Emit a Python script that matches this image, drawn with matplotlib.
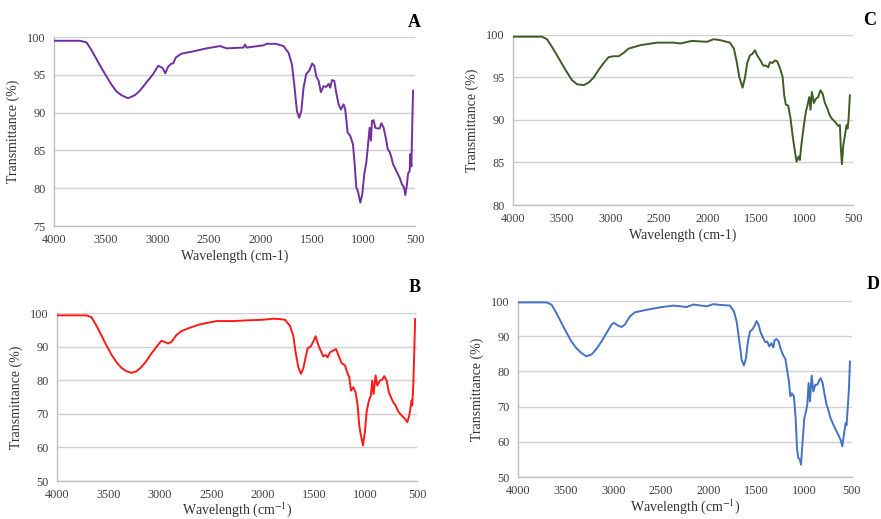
import matplotlib
matplotlib.use("Agg")
import matplotlib.pyplot as plt

# FTIR spectra, values
wn_a = [4000, 3750, 3686, 3638, 3589, 3540, 3492, 3443, 3395, 3346, 3282, 3217, 3168, 3104, 3039, 2990,
        2948, 2922, 2893, 2861, 2845, 2819, 2764, 2651, 2521, 2392, 2327, 2165, 2149, 2133, 1971, 1939,
        1850, 1776, 1727, 1695, 1672, 1646, 1624, 1604, 1582, 1556, 1524, 1498, 1478, 1459, 1436, 1414,
        1388, 1362, 1339, 1323, 1307, 1284, 1265, 1242, 1220, 1194, 1178, 1155, 1129, 1103, 1087, 1071,
        1055, 1032, 1013, 993, 974, 958, 942, 929, 919, 903, 887, 864, 845, 828, 806, 780, 767, 748, 735,
        715, 683, 651, 628, 609, 596, 580, 570, 554, 547, 537, 531, 521]
t_a = [99.5, 99.5, 99.3, 98.3, 97.1, 95.9, 94.8, 93.7, 92.8, 92.3, 91.9, 92.3, 92.9, 94.0, 95.1, 96.2,
       95.9, 95.2, 96.1, 96.5, 96.5, 97.3, 97.8, 98.1, 98.5, 98.8, 98.5, 98.6, 99.0, 98.6, 98.9, 99.1,
       99.1, 98.8, 97.9, 96.4, 93.7, 90.2, 89.3, 90.2, 93.3, 95.1, 95.6, 96.5, 96.2, 94.8, 94.2, 92.7,
       93.5, 93.4, 93.8, 93.3, 94.3, 94.2, 92.6, 91.1, 90.4, 91.1, 90.4, 87.4, 86.9, 85.8, 83.2, 80.1,
       79.6, 78.1, 79.2, 81.9, 83.4, 85.6, 88.0, 86.3, 88.9, 89.0, 88.0, 87.9, 87.9, 88.6, 88.0, 86.3,
       85.2, 84.8, 84.3, 83.2, 82.3, 81.4, 80.5, 80.1, 79.1, 80.5, 81.9, 82.3, 84.5, 82.9, 86.9, 92.9]

wn_b = [4000, 3715, 3666, 3618, 3569, 3520, 3472, 3423, 3374, 3326, 3277, 3229, 3180, 3131, 3083, 3034,
        2986, 2953, 2921, 2888, 2840, 2791, 2710, 2613, 2451, 2289, 2159, 1997, 1900, 1840, 1784, 1735,
        1703, 1680, 1654, 1628, 1606, 1583, 1563, 1531, 1508, 1486, 1466, 1444, 1411, 1388, 1369, 1346,
        1314, 1288, 1259, 1233, 1200, 1174, 1158, 1142, 1119, 1097, 1077, 1061, 1048, 1025, 1006, 990,
        967, 948, 935, 922, 902, 886, 860, 837, 818, 795, 773, 747, 731, 708, 682, 649, 617, 594, 575,
        565, 552, 546, 536, 530, 523, 518]
t_b = [99.3, 99.3, 98.8, 96.3, 93.4, 90.4, 87.7, 85.4, 83.7, 82.7, 82.2, 82.6, 83.9, 85.7, 87.9, 89.9,
       91.7, 91.4, 90.9, 91.4, 93.4, 94.6, 95.6, 96.6, 97.6, 97.6, 97.8, 98.0, 98.3, 98.2, 98.0, 96.2,
       93.3, 88.3, 83.9, 81.9, 83.4, 86.8, 89.5, 90.1, 91.5, 93.1, 91.1, 89.3, 87.1, 87.5, 86.8, 88.3,
       88.8, 89.3, 87.1, 85.1, 84.4, 81.9, 80.9, 76.9, 77.9, 76.4, 72.5, 66.5, 64.1, 60.6, 64.6, 70.5,
       74.0, 75.4, 79.9, 75.9, 81.4, 78.4, 79.9, 80.2, 81.2, 79.9, 76.4, 74.5, 73.5, 72.5, 70.7, 69.5,
       68.5, 67.5, 69.5, 71.5, 74.0, 72.5, 78.4, 84.4, 92.3, 98.2]

wn_c = [4000, 3701, 3650, 3599, 3547, 3496, 3444, 3393, 3341, 3273, 3221, 3170, 3118, 3067, 3015, 2964,
        2912, 2861, 2809, 2689, 2518, 2346, 2278, 2158, 2003, 1935, 1870, 1767, 1726, 1698, 1671, 1637,
        1613, 1589, 1561, 1534, 1510, 1486, 1458, 1424, 1397, 1372, 1355, 1331, 1304, 1280, 1252, 1225,
        1208, 1191, 1167, 1143, 1122, 1098, 1081, 1060, 1047, 1029, 1005, 985, 971, 950, 937, 923, 902,
        882, 858, 834, 813, 789, 765, 745, 721, 686, 652, 635, 625, 614, 601, 583, 566, 556, 546, 532]
t_c = [99.8, 99.8, 99.5, 98.6, 97.6, 96.6, 95.6, 94.7, 94.2, 94.1, 94.4, 95.0, 95.9, 96.7, 97.4, 97.5,
       97.5, 97.9, 98.4, 98.8, 99.1, 99.1, 99.0, 99.3, 99.2, 99.5, 99.4, 99.1, 98.4, 96.9, 95.1, 93.8,
       94.9, 96.7, 97.6, 97.8, 98.2, 97.6, 97.1, 96.4, 96.4, 96.2, 96.8, 96.7, 97.0, 96.9, 96.1, 95.1,
       92.9, 91.8, 91.7, 90.2, 88.2, 86.3, 85.1, 85.7, 85.3, 87.3, 89.4, 91.0, 91.6, 92.7, 91.2, 93.3,
       92.0, 92.5, 92.7, 93.5, 93.1, 92.0, 91.4, 90.7, 90.2, 89.8, 89.3, 89.4, 86.7, 84.8, 86.9, 88.2,
       89.4, 89.0, 90.0, 92.9]

wn_d = [4000, 3703, 3650, 3598, 3545, 3493, 3440, 3388, 3335, 3283, 3230, 3178, 3125, 3073, 3020, 2996,
        2950, 2915, 2880, 2828, 2775, 2653, 2513, 2373, 2233, 2163, 2023, 1953, 1883, 1778, 1736, 1708,
        1680, 1656, 1632, 1611, 1590, 1569, 1541, 1520, 1499, 1478, 1457, 1429, 1408, 1387, 1366, 1345,
        1324, 1310, 1289, 1268, 1247, 1219, 1198, 1177, 1160, 1146, 1129, 1108, 1090, 1076, 1062, 1045,
        1034, 1017, 999, 982, 968, 954, 940, 922, 905, 884, 863, 846, 828, 807, 786, 765, 748, 730, 702,
        678, 643, 619, 601, 584, 566, 556, 542, 531, 521]
t_d = [99.6, 99.6, 99.0, 96.6, 93.8, 91.1, 88.5, 86.6, 85.2, 84.3, 84.8, 86.4, 88.5, 90.9, 93.3, 93.8,
       93.0, 92.6, 93.3, 95.6, 96.8, 97.5, 98.2, 98.7, 98.3, 99.0, 98.5, 99.1, 98.9, 98.7, 97.0, 94.1,
       88.5, 83.3, 81.7, 83.7, 88.5, 91.3, 92.0, 93.0, 94.3, 93.2, 91.1, 89.4, 88.3, 88.5, 87.1, 88.0,
       86.8, 88.9, 89.2, 88.5, 86.4, 84.5, 83.6, 80.0, 77.1, 72.9, 73.8, 72.9, 66.7, 58.2, 55.4, 54.9,
       53.5, 60.1, 66.7, 68.6, 70.5, 76.7, 71.5, 78.8, 74.3, 76.2, 76.2, 77.3, 78.1, 76.7, 73.3, 70.5,
       69.1, 67.2, 65.3, 63.9, 62.0, 60.6, 58.7, 62.0, 65.3, 64.8, 70.5, 75.2, 82.8]

plt.rcParams['font.family'] = ['Liberation Serif', 'DejaVu Serif']
plt.rcParams['mathtext.fontset'] = 'stix'

fig = plt.figure(figsize=(8.81, 5.19), dpi=100)

panels = [
    # wn, t, color, rect, ylim, step, letter, letter pos, xlabel, xlabel pad
    (wn_a, t_a, '#7030a0', [0.0613, 0.5645, 0.410, 0.3642], (75, 100), 5, 'A', (0.478, 0.957), 'Wavelength (cm-1)', 2),
    (wn_c, t_c, '#3d5c26', [0.5823, 0.6050, 0.3859, 0.3276], (80, 100), 5, 'C', (0.994, 0.961), 'Wavelength (cm-1)', 2),
    (wn_b, t_b, '#ff1a1a', [0.0647, 0.0732, 0.4086, 0.3237], (50, 100), 10, 'B', (0.478, 0.447), r'Wavelength (cm$^{-1}$)', -1),
    (wn_d, t_d, '#4472c4', [0.588, 0.0809, 0.379, 0.3391], (50, 100), 10, 'D', (0.998, 0.451), r'Wavelength (cm$^{-1}$)', 0),
]

for wn, t, color, rect, ylim, step, letter, lpos, xlab, xpad in panels:
    ax = fig.add_axes(rect)
    ax.plot(wn, t, color=color, linewidth=1.4, zorder=3)
    ax.set_xlim(4000, 500)
    ax.set_ylim(*ylim)
    ax.set_xticks(range(4000, 499, -500))
    ax.set_yticks(range(ylim[0], ylim[1] + 1, step))
    ax.yaxis.grid(True, color='#d0d0d0', linewidth=1.0)
    ax.set_axisbelow(True)
    for s in ('top', 'right'):
        ax.spines[s].set_visible(False)
    for s in ('left', 'bottom'):
        ax.spines[s].set_color('#bfbfbf')
        ax.spines[s].set_linewidth(1.0)
    ax.tick_params(length=0, labelsize=8.8, colors='#404040', pad=6)
    ax.set_ylabel('Transmittance (%)', fontsize=10, color='#333333', labelpad=5)
    ax.set_xlabel(xlab, fontsize=10, color='#333333', labelpad=xpad)
    fig.text(lpos[0], lpos[1], letter, fontsize=13, fontweight='bold', ha='right', va='center')

plt.savefig('out.png', dpi=100)
